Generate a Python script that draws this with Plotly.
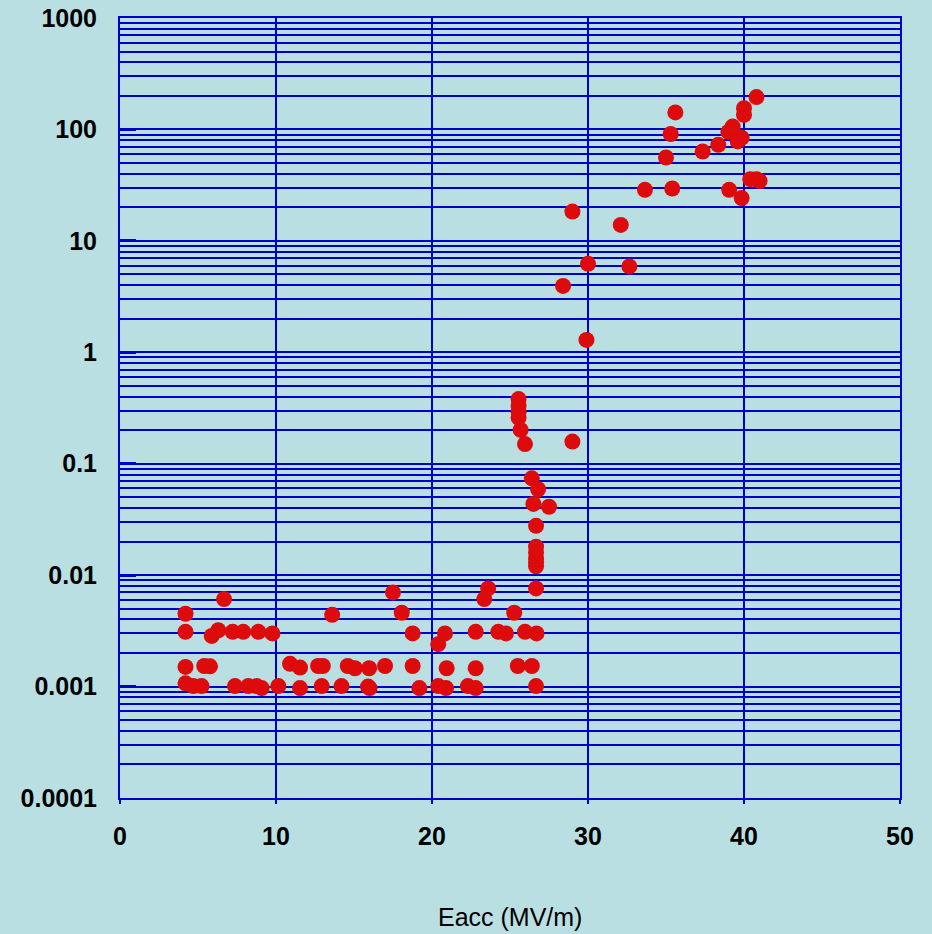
import plotly.graph_objects as go

# Data
eacc = [
    4.2, 4.2, 4.2, 4.2, 4.7, 5.23, 5.4, 5.77, 5.88, 6.3, 6.67, 7.22, 7.37, 7.9,
    8.22, 8.76, 9.08, 8.87, 9.77, 10.15, 10.9, 11.54, 11.54, 12.7, 13.0, 12.93,
    13.6, 14.2, 14.6, 15.06, 15.9, 16.0, 15.97, 16.99, 17.5, 18.06, 18.76, 18.76,
    19.19, 20.4, 20.83, 20.94, 20.4, 20.9, 22.3, 22.8, 22.8, 22.8, 23.35, 23.6,
    24.25, 24.74, 25.27, 25.5, 25.96, 26.7, 26.4, 26.67, 26.67,
    26.67, 26.67, 26.67, 26.67, 26.67, 26.67, 26.5, 27.5, 26.8, 26.4,
    25.96, 25.68, 25.55, 25.55, 25.55, 25.55, 29.0, 29.9, 28.4, 30.0, 32.65,
    32.1, 29.0, 33.65, 35.4, 35.0, 35.3, 35.6, 37.35, 38.35, 39.0, 39.27, 39.6,
    39.85, 40.0, 40.0, 40.8, 39.05, 39.85, 40.4, 40.8, 41.0,
]
dark_current = [
    0.0045, 0.0031, 0.0015, 0.00107, 0.00101, 0.00101, 0.00153, 0.00152, 0.00285,
    0.0032, 0.0061, 0.0031, 0.00101, 0.0031, 0.00101, 0.00101, 0.00097, 0.0031,
    0.0030, 0.00101, 0.0016, 0.00148, 0.00097, 0.00153, 0.00153, 0.00101, 0.0044,
    0.00101, 0.00153, 0.00146, 0.001, 0.00097, 0.00146, 0.00153, 0.0070, 0.0046,
    0.0030, 0.00153, 0.00097, 0.0024, 0.0030, 0.00146, 0.00101, 0.00097, 0.00101,
    0.00097, 0.0031, 0.00146, 0.0061, 0.0076, 0.0031, 0.0030, 0.0046, 0.00153,
    0.0031, 0.0030, 0.00153, 0.00101, 0.0076,
    0.012, 0.013, 0.014, 0.016, 0.018, 0.0277, 0.0436, 0.0411, 0.059, 0.074,
    0.15, 0.201, 0.26, 0.29, 0.33, 0.38, 0.158, 1.29, 3.94, 6.22, 5.9,
    13.9, 18.3, 28.7, 29.5, 56, 91, 142, 63.4, 72.8, 95, 106, 78,
    84, 155, 135, 195, 28.7, 24.2, 35.8, 35.8, 34.5,
]

y_tickvals = [0.0001, 0.001, 0.01, 0.1, 1, 10, 100, 1000]
y_ticktext = ["0.0001", "0.001", "0.01", "0.1", "1", "10", "100", "1000"]
x_tickvals = [0, 10, 20, 30, 40, 50]
x_ticktext = ["0", "10", "20", "30", "40", "50"]

BG = "#badfe2"
GRID = "#0000cc"
RED = "#dd0b0b"

fig = go.Figure()
fig.add_trace(go.Scatter(
    x=eacc, y=dark_current, mode="markers",
    marker=dict(color=RED, size=16, line=dict(width=0)),
    showlegend=False,
))

tickfont = dict(family="Liberation Sans, Arial, sans-serif", size=25, color="black", weight="bold")

fig.update_layout(
    width=932, height=934,
    paper_bgcolor=BG, plot_bgcolor=BG,
    margin=dict(l=120, r=32, t=18, b=136),
    showlegend=False,
    xaxis=dict(
        range=[0, 50], tickmode="array", tickvals=x_tickvals, ticktext=x_ticktext,
        showgrid=True, gridcolor=GRID, gridwidth=2,
        showline=True, linecolor=GRID, linewidth=2, mirror=True,
        ticks="outside", ticklen=4, tickcolor=GRID, tickwidth=2,
        zeroline=False, tickfont=tickfont, ticklabelstandoff=11, automargin=False,
    ),
    yaxis=dict(
        type="log", range=[-4, 3], tickmode="array", tickvals=y_tickvals, ticktext=y_ticktext,
        showgrid=True, gridcolor=GRID, gridwidth=2,
        minor=dict(dtick="D1", showgrid=True, gridcolor=GRID, gridwidth=2, ticks=""),
        showline=True, linecolor=GRID, linewidth=2, mirror=True,
        ticks="inside", ticklen=16, tickcolor=GRID, tickwidth=3,
        zeroline=False, tickfont=tickfont, ticklabelstandoff=16, automargin=False,
    ),
    annotations=[dict(
        text="Eacc (MV/m)", x=0.5, y=-0.153, xref="paper", yref="paper",
        xanchor="center", yanchor="middle", showarrow=False,
        font=dict(family="Liberation Sans, Arial, sans-serif", size=25, color="black"),
    )],
)

fig.write_html(
    "out.html",
    config={"displayModeBar": False},
    post_script="document.body.style.margin='0';document.body.style.overflow='hidden';",
)
